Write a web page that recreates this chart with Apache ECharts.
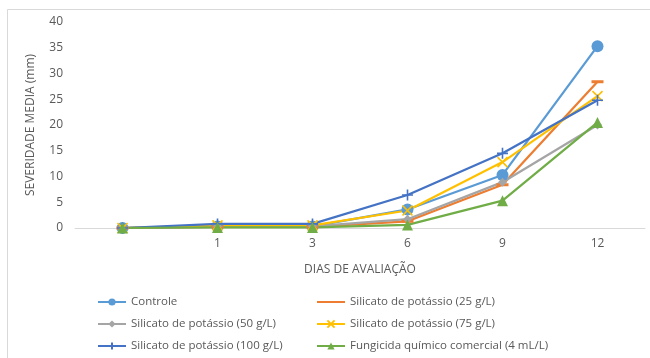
<!DOCTYPE html>
<html>
<head>
<meta charset="utf-8">
<script src="https://cdn.jsdelivr.net/npm/echarts@6/dist/echarts.min.js"></script>
<style>
  html, body { margin: 0; padding: 0; background: #fff; }
  #chart { width: 650px; height: 358px; }
</style>
</head>
<body>
<div id="chart"></div>
<script>
// Evaluation days (first point is day 0, shown without a label)
var days = ['', '1', '3', '6', '9', '12'];
var yTicks = { min: 0, max: 40, step: 5 };

// Mean severity (mm) per treatment
var controle      = [0, 0.3, 0.3, 3.6, 10.3, 35.3];
var silicato25    = [0, 0.2, 0.2, 1.3, 8.4, 28.4];
var silicato50    = [0, 0.3, 0.3, 1.7, 8.9, 20.0];
var silicato75    = [0, 0.5, 0.5, 3.4, 12.8, 25.6];
var silicato100   = [0, 0.8, 0.8, 6.4, 14.5, 24.8];
var fungicida     = [0, 0.1, 0.1, 0.6, 5.3, 20.5];

var names = [
  'Controle',
  'Silicato de potássio (25 g/L)',
  'Silicato de potássio (50 g/L)',
  'Silicato de potássio (75 g/L)',
  'Silicato de potássio (100 g/L)',
  'Fungicida químico comercial (4 mL/L)'
];

var font = '"Open Sans", "Noto Sans", sans-serif';
var textColor = '#595959';

function lineSeries(name, data, color, symbol, size, stroke) {
  return {
    name: name,
    type: 'line',
    data: data,
    symbol: symbol,
    symbolSize: size,
    showSymbol: true,
    lineStyle: { color: color, width: 2.25 },
    itemStyle: stroke
      ? { color: color, borderColor: color, borderWidth: 1.6 }
      : { color: color, borderWidth: 0 },
    emphasis: { disabled: true },
    animation: false
  };
}

// Two-column legend: one legend block per entry
var legendCols = [97, 316];
var legendRows = [296, 318, 340];
var legends = names.map(function (n, i) {
  // the 25 g/L dash marker disappears into its line in the key
  var item = i === 1 ? { name: n, itemStyle: { opacity: 0 } } : n;
  return {
    data: [item],
    left: legendCols[i % 2],
    top: legendRows[Math.floor(i / 2)],
    itemWidth: 28,
    itemHeight: 9,
    itemGap: 0,
    padding: 0,
    textStyle: { color: textColor, fontSize: 11.5, fontFamily: font },
    selectedMode: false
  };
});

var chart = echarts.init(document.getElementById('chart'), null, { renderer: 'canvas' });

chart.setOption({
  backgroundColor: '#fff',
  textStyle: { fontFamily: font },
  graphic: [{
    type: 'rect',
    shape: { x: 7.5, y: 9.5, width: 660, height: 360 },
    style: { fill: 'none', stroke: '#D9D9D9', lineWidth: 1 },
    silent: true
  }],
  grid: { left: 75, right: 5, top: 22, bottom: 130, containLabel: false },
  xAxis: {
    type: 'category',
    data: days,
    boundaryGap: true,
    name: 'DIAS DE AVALIAÇÃO',
    nameLocation: 'middle',
    nameGap: 36,
    nameTextStyle: { color: textColor, fontSize: 12, fontFamily: font },
    axisLine: { lineStyle: { color: '#D9D9D9', width: 1 } },
    axisTick: { show: false },
    axisLabel: { color: textColor, fontSize: 12, margin: 10, fontFamily: font },
    splitLine: { show: false }
  },
  yAxis: {
    type: 'value',
    min: yTicks.min,
    max: yTicks.max,
    interval: yTicks.step,
    name: 'SEVERIDADE MEDIA (mm)',
    nameLocation: 'middle',
    nameGap: 38,
    nameRotate: 90,
    nameTextStyle: { color: textColor, fontSize: 12, fontFamily: font },
    axisLine: { show: false },
    axisTick: { show: false },
    axisLabel: { color: textColor, fontSize: 12, margin: 12, fontFamily: font },
    splitLine: { show: false }
  },
  legend: legends,
  series: [
    lineSeries(names[0], controle, '#5B9BD5', 'circle', 12, false),
    lineSeries(names[1], silicato25, '#ED7D31', 'path://M0,0L12,0L12,3L0,3Z', [12, 3], false),
    lineSeries(names[2], silicato50, '#A5A5A5', 'diamond', 9, false),
    lineSeries(names[3], silicato75, '#FFC000', 'path://M0,0L10,10M10,0L0,10', 10, true),
    lineSeries(names[4], silicato100, '#4472C4', 'path://M5,0L5,10M0,5L10,5', 11, true),
    lineSeries(names[5], fungicida, '#70AD47', 'triangle', 11, false)
  ]
});
</script>
</body>
</html>
